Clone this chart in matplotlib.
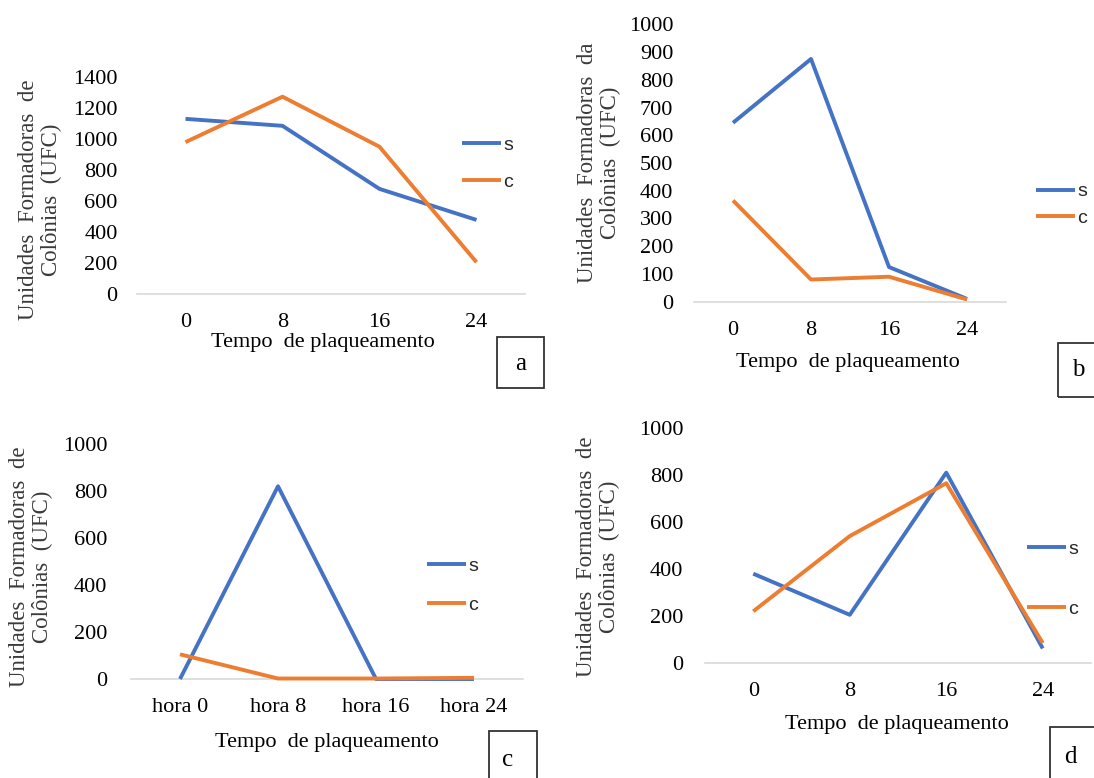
import matplotlib
matplotlib.use("Agg")
import matplotlib.pyplot as plt
from matplotlib.patches import Rectangle

# ==================== dados ====================
tempo = ["0", "8", "16", "24"]
tempo_horas = ["hora 0", "hora 8", "hora 16", "hora 24"]

a_s = [1130, 1085, 678, 478]
a_c = [980, 1273, 950, 205]

b_s = [645, 875, 125, 10]
b_c = [365, 80, 90, 8]

c_s = [0, 820, 0, 0]
c_c = [105, 2, 2, 5]

d_s = [380, 205, 810, 62]
d_c = [220, 540, 765, 85]

ylabel_de = "Unidades  Formadoras  de\nColônias  (UFC)"
ylabel_da = "Unidades  Formadoras  da\nColônias  (UFC)"
xlabel = "Tempo  de plaqueamento"

AZUL = "#4472C4"
LARANJA = "#ED7D31"
SERIF = ["Liberation Serif", "DejaVu Serif"]
SANS = ["Liberation Sans", "DejaVu Sans"]
FS = 16

W, H = 1094, 778
fig = plt.figure(figsize=(W / 100, H / 100), dpi=100)


def fx(x):
    return x / W


def fy(y):
    return 1 - y / H


def painel(x0, x1, ybase, ytop, ymax, ystep, cats, s, c, ylab, ylab_xy,
           xlab_xy, leg_x, leg_y, leg_gap, box, letra_xy, letra, ypad):
    ax = fig.add_axes([fx(x0), fy(ybase), (x1 - x0) / W, (ybase - ytop) / H])
    pos = list(range(len(cats)))
    ls, = ax.plot(pos, s, color=AZUL, lw=2.8, solid_capstyle="butt", label="s")
    lc, = ax.plot(pos, c, color=LARANJA, lw=2.8, solid_capstyle="butt", label="c")
    ax.set_xlim(-0.5, len(cats) - 0.5)
    ax.set_ylim(0, ymax)
    ax.set_yticks(range(0, ymax + 1, ystep))
    ax.set_xticks(pos)
    ax.set_xticklabels(cats)
    for sp in ["top", "right", "left"]:
        ax.spines[sp].set_visible(False)
    ax.spines["bottom"].set_color("#D9D9D9")
    ax.spines["bottom"].set_linewidth(1.2)
    ax.spines["bottom"].set_zorder(0)
    ax.tick_params(axis="both", length=0, labelsize=FS, labelcolor="#000000")
    ax.tick_params(axis="y", pad=ypad)
    ax.tick_params(axis="x", pad=14)
    for t in ax.get_xticklabels() + ax.get_yticklabels():
        t.set_family(SERIF)
    ax.patch.set_alpha(0)
    for ln in (ls, lc):
        ln.set_clip_on(False)

    fig.text(fx(ylab_xy[0]), fy(ylab_xy[1]), ylab, rotation=90, ha="center",
             va="center", fontsize=FS + 0.5, family=SERIF, color="#3a3a3a",
             linespacing=1.15, multialignment="center")
    fig.text(fx(xlab_xy[0]), fy(xlab_xy[1]), xlabel, ha="center", va="center",
             fontsize=FS, family=SERIF, color="#000000")

    fs_leg = 14
    leg = fig.legend(handles=[ls, lc], loc="center left",
                     bbox_to_anchor=(fx(leg_x), fy(leg_y)), frameon=False,
                     fontsize=fs_leg, handlelength=2.0, handletextpad=0.12,
                     borderpad=0, borderaxespad=0,
                     labelspacing=(leg_gap - fs_leg * 1.39) / (fs_leg * 1.39))
    for t in leg.get_texts():
        t.set_family(SANS)
        t.set_color("#262626")

    bx0, by0, bx1, by1 = box
    fig.patches.append(Rectangle((fx(bx0), fy(by1)), (bx1 - bx0) / W,
                                 (by1 - by0) / H, transform=fig.transFigure,
                                 fill=False, edgecolor="#333333", lw=1.3))
    fig.text(fx(letra_xy[0]), fy(letra_xy[1]), letra, ha="center",
             va="center", fontsize=FS + 2, family=SERIF, color="#000000")
    return ax


painel(137, 525, 294, 77, 1400, 200, tempo, a_s, a_c, ylabel_de, (40, 200),
       (323, 343), 462, 163.5, 39, (497, 337, 544, 388), (521, 364), "a", 14)

painel(694, 1006, 301.7, 24.3, 1000, 100, tempo, b_s, b_c, ylabel_da, (599, 163),
       (848, 362), 1036, 205, 28.5, (1058, 343, 1110, 397), (1078, 370), "b", 15)

painel(131, 523, 679, 444, 1000, 200, tempo_horas, c_s, c_c, ylabel_de, (31, 567),
       (327, 742), 427, 585.5, 41, (489, 731, 537, 790), (508, 760), "c", 17)

painel(705, 1091, 663, 428, 1000, 200, tempo, d_s, d_c, ylabel_de, (598, 557),
       (897, 725), 1027, 579, 62, (1050, 727, 1110, 790), (1070, 757), "d", 15.5)

fig.savefig("out.png", dpi=100, facecolor="white")
